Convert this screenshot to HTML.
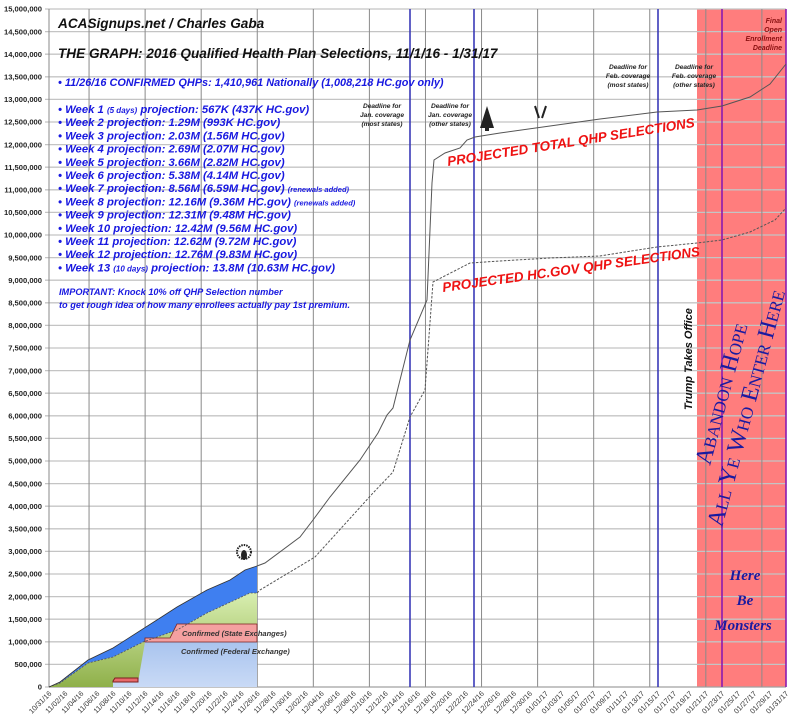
<!DOCTYPE html>
<html><head><meta charset="utf-8"><style>
html,body{margin:0;padding:0;background:#fff;}
svg{display:block;}
text{font-family:"Liberation Sans",Arial,sans-serif;}
text.serif{font-family:"Liberation Serif",serif;}
</style></head><body>
<svg width="800" height="728" viewBox="0 0 800 728" xmlns="http://www.w3.org/2000/svg">
<defs>
<linearGradient id="fed" x1="0" y1="0" x2="0" y2="1"><stop offset="0" stop-color="#a9c4ee"/><stop offset="1" stop-color="#c9daf6"/></linearGradient>
<linearGradient id="grn" x1="0" y1="0" x2="0" y2="1"><stop offset="0" stop-color="#d8eeb0"/><stop offset="1" stop-color="#8fb04a"/></linearGradient>
</defs>
<rect x="0" y="0" width="800" height="728" fill="#fff"/>
<rect x="697" y="9" width="89" height="678" fill="#ff7d7d"/>
<g stroke="#c4c4c4" stroke-width="1.3" id="hg"></g>
<g stroke="#8a8a8a" stroke-width="1" id="vg"></g>
<line x1="49" y1="9" x2="49" y2="687" stroke="#888"/>
<line x1="49" y1="687" x2="786" y2="687" stroke="#999"/>
<g stroke-width="1.6">
<line x1="410" y1="9" x2="410" y2="687" stroke="#3a3ab8"/>
<line x1="474" y1="9" x2="474" y2="687" stroke="#3a3ab8"/>
<line x1="658" y1="9" x2="658" y2="687" stroke="#3a3ab8"/>
<line x1="722" y1="9" x2="722" y2="687" stroke="#8a1ab0"/>
<line x1="786" y1="9" x2="786" y2="687" stroke="#8a1ab0"/>
</g>
<polygon points="49,687 60,682 88,660 113,648 160,618 177,607 207,590 230,580 245,570 257,566 257,593 250,593 207,613 177,630 143,642 113,657 88,663 60,683" fill="#3f7ff0"/>
<polygon points="49,687 60,683 88,663 113,657 143,642 177,630 207,613 250,593 257,593 257,687" fill="url(#grn)"/>
<polygon points="113,687 113,682 138,682 145,642 257,642 257,687" fill="url(#fed)"/>
<polygon points="113,681 115,678 138,678 138,682 113,682" fill="#e86a6a" stroke="#7a1f1f" stroke-width="1"/>
<polygon points="145,642 145,638 170,638 177,624 257,624 257,642" fill="#f4a0a0" stroke="#7a1f1f" stroke-width="0.8"/>
<polyline points="49,687 60,683 88,663 113,657 143,642 177,630 207,613 250,593 257,593" fill="none" stroke="#555" stroke-width="0.8" stroke-dasharray="2,1.5"/>
<polyline points="49,687 60,682 88,660 113,648 160,618 177,607 207,590 230,580 245,570 257,566" fill="none" stroke="#333" stroke-width="0.8"/>
<polyline points="257,566 265,563 300,537 313,520 330,497 360,460 378,433 387,415 393,408 410,340 427,300 432,183 434,160 445,153 460,148 467,140 475,137 500,133 550,126 600,119 657,112 697,110 722,106 750,97 770,84 786,64" fill="none" stroke="#555" stroke-width="1"/>
<polyline points="257,593 260,590 315,557 373,493 393,472 410,417 425,390 433,282 470,263 500,261 550,258 600,256 657,247 697,243 722,240 750,232 775,220 786,208" fill="none" stroke="#555" stroke-width="1" stroke-dasharray="2.5,1.5"/>
<g id="yl" font-size="7.6" font-weight="bold" fill="#222" text-anchor="end"></g>
<g id="xl" font-size="7.3" fill="#333"></g>
<g font-style="italic" font-weight="bold">
<text x="58" y="28" font-size="13.6" fill="#111">ACASignups.net / Charles Gaba</text>
<text x="58" y="58" font-size="13.6" fill="#111">THE GRAPH: 2016 Qualified Health Plan Selections, 11/1/16 - 1/31/17</text>
<text x="58" y="86" font-size="10.9" fill="#1818e0">• 11/26/16 CONFIRMED QHPs: 1,410,961 Nationally (1,008,218 HC.gov only)</text>
<g font-size="11.3" fill="#1818e0">
<text x="58" y="113">• Week 1 <tspan font-size="8">(5 days)</tspan> projection: 567K (437K HC.gov)</text>
<text x="58" y="126.2">• Week 2 projection: 1.29M (993K HC.gov)</text>
<text x="58" y="139.4">• Week 3 projection: 2.03M (1.56M HC.gov)</text>
<text x="58" y="152.6">• Week 4 projection: 2.69M (2.07M HC.gov)</text>
<text x="58" y="165.8">• Week 5 projection: 3.66M (2.82M HC.gov)</text>
<text x="58" y="179">• Week 6 projection: 5.38M (4.14M HC.gov)</text>
<text x="58" y="192.2">• Week 7 projection: 8.56M (6.59M HC.gov) <tspan font-size="7.5">(renewals added)</tspan></text>
<text x="58" y="205.4">• Week 8 projection: 12.16M (9.36M HC.gov) <tspan font-size="7.5">(renewals added)</tspan></text>
<text x="58" y="218.6">• Week 9 projection: 12.31M (9.48M HC.gov)</text>
<text x="58" y="231.8">• Week 10 projection: 12.42M (9.56M HC.gov)</text>
<text x="58" y="245">• Week 11 projection: 12.62M (9.72M HC.gov)</text>
<text x="58" y="258.2">• Week 12 projection: 12.76M (9.83M HC.gov)</text>
<text x="58" y="271.4">• Week 13 <tspan font-size="8">(10 days)</tspan> projection: 13.8M (10.63M HC.gov)</text>
</g>
<text x="59" y="295" font-size="9.2" fill="#1818e0">IMPORTANT: Knock 10% off QHP Selection number</text>
<text x="59" y="308" font-size="9.2" fill="#1818e0">to get rough idea of how many enrollees actually pay 1st premium.</text>
<g font-size="6.6" fill="#222" text-anchor="middle">
<text x="382" y="108">Deadline for</text><text x="382" y="117">Jan. coverage</text><text x="382" y="126">(most states)</text>
<text x="450" y="108">Deadline for</text><text x="450" y="117">Jan. coverage</text><text x="450" y="126">(other states)</text>
<text x="628" y="69">Deadline for</text><text x="628" y="78">Feb. coverage</text><text x="628" y="87">(most states)</text>
<text x="694" y="69">Deadline for</text><text x="694" y="78">Feb. coverage</text><text x="694" y="87">(other states)</text>
</g>
<g font-size="7" fill="#8a1010" text-anchor="end">
<text x="782" y="23">Final</text><text x="782" y="32">Open</text><text x="782" y="41">Enrollment</text><text x="782" y="50">Deadline</text>
</g>
<text transform="translate(448,166) rotate(-9)" font-size="13.4" fill="#ee1111">PROJECTED TOTAL QHP SELECTIONS</text>
<text transform="translate(443,292) rotate(-8)" font-size="13.4" fill="#ee1111">PROJECTED HC.GOV QHP SELECTIONS</text>
<text x="182" y="636" font-size="7.5" fill="#333">Confirmed (State Exchanges)</text>
<text x="181" y="654" font-size="7.5" fill="#333">Confirmed (Federal Exchange)</text>
<text transform="translate(692,410) rotate(-90)" font-size="11" fill="#111">Trump Takes Office</text>
</g>
<g fill="#1a1aa0">
<text class="serif" transform="translate(710,466) rotate(-75)" font-size="24">A<tspan font-size="17">BANDON</tspan> H<tspan font-size="17">OPE</tspan></text>
<text class="serif" transform="translate(722,528) rotate(-75)" font-size="24">A<tspan font-size="17">LL</tspan> Y<tspan font-size="17">E</tspan> W<tspan font-size="17">HO</tspan> E<tspan font-size="17">NTER</tspan> H<tspan font-size="17">ERE</tspan></text>
<g font-style="italic" font-weight="bold" font-size="15" text-anchor="middle">
<text class="serif" x="745" y="580">Here</text><text class="serif" x="745" y="605">Be</text><text class="serif" x="743" y="630">Monsters</text>
</g>
</g>
<g fill="#222">
<circle cx="244" cy="552" r="7" fill="none" stroke="#222" stroke-width="2" stroke-dasharray="1.5,1"/>
<ellipse cx="244" cy="555" rx="3" ry="5"/>
<polygon points="487,106 480,128 494,128"/>
<rect x="485" y="128" width="4" height="3"/>
<path d="M535,106 l4,12 M546,106 l-4,12" stroke="#222" stroke-width="2"/>
</g>
<script>
(function(){
var ns="http://www.w3.org/2000/svg";
var hg=document.getElementById('hg'),yl=document.getElementById('yl'),vg=document.getElementById('vg'),xl=document.getElementById('xl');
for(var i=0;i<=30;i++){var y=687-i*22.6;
var l=document.createElementNS(ns,'line');l.setAttribute('x1',45);l.setAttribute('x2',786);l.setAttribute('y1',y);l.setAttribute('y2',y);hg.appendChild(l);
var t=document.createElementNS(ns,'text');t.setAttribute('x',42);t.setAttribute('y',y+2.7);
var v=i*500000;t.textContent=v.toLocaleString('en-US');yl.appendChild(t);}
for(var d=5;d<92;d+=7){var x=49+d*8.01;var l=document.createElementNS(ns,'line');l.setAttribute('x1',x);l.setAttribute('x2',x);l.setAttribute('y1',9);l.setAttribute('y2',687);vg.appendChild(l);}
var start=new Date(2016,9,31);
for(var d=0;d<=92;d+=2){var dt=new Date(start.getTime()+d*86400000+3600000*12);
var s=('0'+(dt.getMonth()+1)).slice(-2)+'/'+('0'+dt.getDate()).slice(-2)+'/'+String(dt.getFullYear()).slice(-2);
var x=49+d*8.01;var t=document.createElementNS(ns,'text');t.setAttribute('text-anchor','end');
t.setAttribute('transform','translate('+(x+3)+',694) rotate(-45)');t.textContent=s;xl.appendChild(t);}
})();
</script>
</svg>
</body></html>
